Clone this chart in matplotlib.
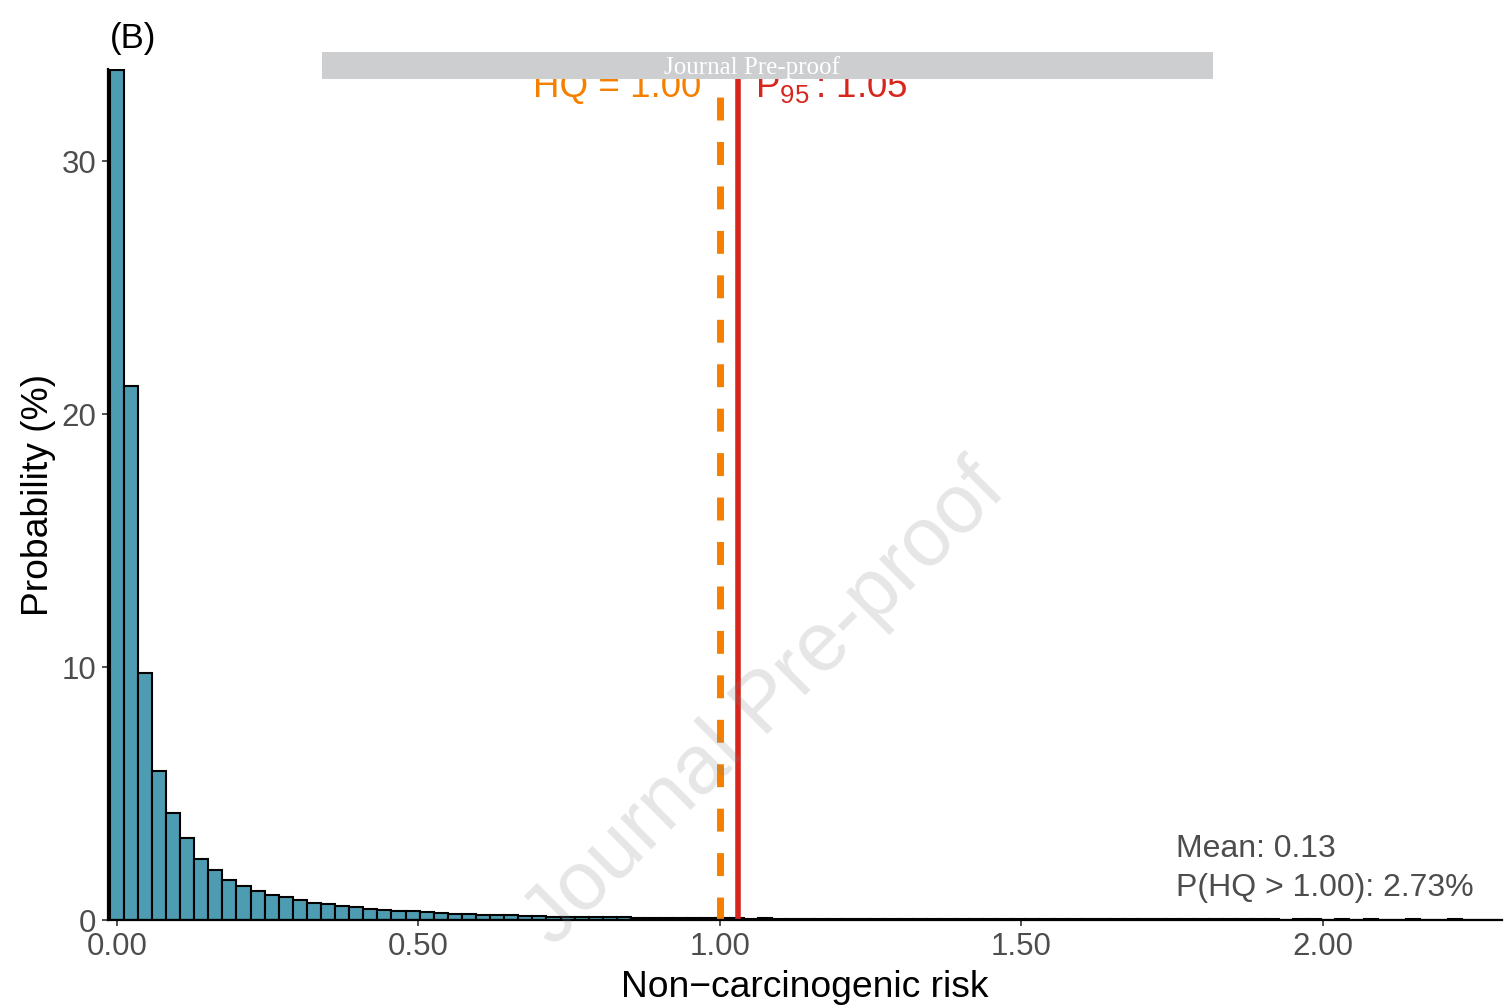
import numpy as np
import matplotlib
matplotlib.use("Agg")
import matplotlib.pyplot as plt
from matplotlib.patches import Rectangle

plt.rcParams['font.family'] = ['Liberation Sans', 'DejaVu Sans']
plt.rcParams['mathtext.fontset'] = 'custom'
plt.rcParams['mathtext.rm'] = 'Liberation Sans'
plt.rcParams['mathtext.default'] = 'regular'

# histogram of non-carcinogenic risk (HQ), probability in %
bin_width = 0.02336
probability = [
    33.6, 21.1, 9.77, 5.9, 4.22, 3.23, 2.42, 1.98, 1.58, 1.36, 1.13, 0.98, 0.90, 0.78,
    0.68, 0.63, 0.55, 0.50, 0.45, 0.40, 0.36, 0.34, 0.30, 0.26, 0.22, 0.24, 0.21, 0.18,
    0.18, 0.16, 0.14,
    0.12, 0.12, 0.11, 0.11, 0.10, 0.10, 0.09, 0.08, 0.08, 0.07, 0.07, 0.06,
    0.06, 0.06, 0.05, 0.06, 0.05, 0.05, 0.05, 0.04, 0.05, 0.04,
    0.04, 0.04, 0.04, 0.03, 0.04, 0.03, 0.04, 0.03, 0.03, 0.03,
    0.03, 0.03, 0.03, 0.02, 0.03, 0.03, 0.02, 0.03, 0.02, 0.02,
    0.02, 0.03, 0.02, 0.02, 0.02, 0.02, 0.02, 0.02, 0.02, 0.02,
    0.01, 0.02, 0.02, 0.01, 0.02, 0.01, 0.02, 0.01, 0.01, 0.02,
    0.01, 0.01, 0.02, 0.01, 0.01, 0.01,
]
bin_centers = np.arange(len(probability)) * bin_width

hq_limit = 1.00
p95_line = 1.03
p95_text = "1.05"
mean_hq = 0.13
p_exceed = 2.73

xticks = [0, 0.5, 1.0, 1.5, 2.0]
xtick_labels = ["0.00", "0.50", "1.00", "1.50", "2.00"]
yticks = [0, 10, 20, 30]

orange = "#F58000"
red = "#D7261E"
bar_col = "#4E9CB2"
grey_txt = "#4D4D4D"

fig = plt.figure(figsize=(15.04, 10.08), dpi=100)
ax = fig.add_axes([108/1504, 88/1008, 1394/1504, 851/1008])

ax.bar(bin_centers, probability, width=bin_width, color=bar_col,
       edgecolor="black", linewidth=1.5, zorder=2)

ax.axvline(hq_limit, color=orange, lw=5, dashes=(3.3, 3.1), zorder=3)
ax.axvline(p95_line, color=red, lw=4, zorder=3)

ax.text(0.970, 32.55, "HQ = 1.00", color=orange, fontsize=26.5, ha="right",
        va="baseline", zorder=4)
ax.text(1.059, 32.55, r"P$_{95}\,$: " + p95_text, color=red, fontsize=26.5,
        ha="left", va="baseline", zorder=4)

ax.text(1.756, 2.49, "Mean: %.2f" % mean_hq, color=grey_txt, fontsize=23,
        ha="left", va="baseline")
ax.text(1.756, 0.95, "P(HQ > %.2f): %.2f%%" % (hq_limit, p_exceed),
        color=grey_txt, fontsize=23, ha="left", va="baseline")

ax.set_xlim(-0.0145, 2.297)
ax.set_ylim(0, 33.65)
ax.set_xticks(xticks)
ax.set_xticklabels(xtick_labels)
ax.set_yticks(yticks)
ax.tick_params(axis="both", labelsize=22.5, labelcolor=grey_txt, color="#333333",
               width=1.2, length=4.5, pad=4)
for s in ["top", "right"]:
    ax.spines[s].set_visible(False)
for s in ["left", "bottom"]:
    ax.spines[s].set_linewidth(1.6)
    ax.spines[s].set_zorder(5)

ax.set_xlabel("Non\u2212carcinogenic risk", fontsize=26.8, color="black", labelpad=6)
ax.set_ylabel("Probability (%)", fontsize=26.8, color="black", labelpad=4)

fig.text(110/1504, 1 - 48/1008, "(B)", fontsize=25, color="black",
         ha="left", va="baseline")

# watermark
fig.text(765/1504, 1 - 705/1008, "Journal Pre-proof", fontsize=60, color="gray",
         alpha=0.2, rotation=45, ha="center", va="center", zorder=10)

# banner
fig.patches.append(Rectangle((322/1504, 1 - 79/1008), 891/1504, 27/1008,
                             transform=fig.transFigure, facecolor="#CDCED0",
                             edgecolor="none", zorder=20))
fig.text(752/1504, 1 - 74/1008, "Journal Pre-proof", fontsize=18, color="white",
         family="Liberation Serif", ha="center", va="baseline", zorder=21)

fig.savefig("out.png", dpi=100)
